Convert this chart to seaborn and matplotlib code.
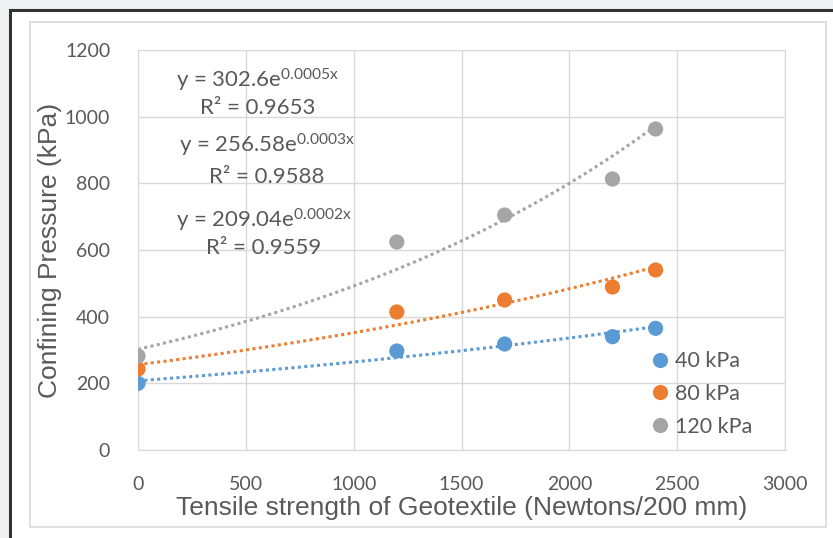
import numpy as np
import pandas as pd
import matplotlib
matplotlib.use("Agg")
import matplotlib.pyplot as plt
import seaborn as sns
from matplotlib.patches import Rectangle

# Data
tensile = [0, 1200, 1700, 2200, 2400]
p_40 = [200, 297, 318, 340, 365]
p_80 = [243, 414, 450, 489, 540]
p_120 = [282, 624, 705, 813, 963]
series_names = ["40 kPa", "80 kPa", "120 kPa"]
colors = ["#5B9BD5", "#ED7D31", "#A5A5A5"]
equations = ["y = 302.6e$^{0.0005x}$", "y = 256.58e$^{0.0003x}$", "y = 209.04e$^{0.0002x}$"]
r2_labels = ["R² = 0.9653", "R² = 0.9588", "R² = 0.9559"]

df = pd.DataFrame({
    "Tensile": tensile * 3,
    "Pressure": p_40 + p_80 + p_120,
    "Series": [s for s in series_names for _ in tensile],
})

sns.set_style("white")
plt.rcParams["font.family"] = ["Lato", "DejaVu Sans"]
plt.rcParams["mathtext.default"] = "regular"
txt = "#595959"

W, H = 833, 538
fig = plt.figure(figsize=(W / 100, H / 100), dpi=100)
fig.patch.set_facecolor("#F0F1F3")
# outer dark frame and inner chart border
fig.patches.append(Rectangle((10 / W, -10 / H), 840 / W, 538 / H, transform=fig.transFigure,
                             facecolor="white", edgecolor="#333333", linewidth=2.2, zorder=-10))
fig.patches.append(Rectangle((30 / W, 11 / H), 796 / W, 505 / H, transform=fig.transFigure,
                             facecolor="white", edgecolor="#D9D9D9", linewidth=1.2, zorder=-9))

ax = fig.add_axes([138 / W, 1 - 450 / H, 647 / W, 400 / H])
ax.set_zorder(5)
ax.set_facecolor("none")

# exponential trendlines (fit on log y, like Excel)
xs = np.linspace(0, 2400, 200)
for name, col in zip(series_names, colors):
    sub = df[df["Series"] == name]
    b, lna = np.polyfit(sub["Tensile"], np.log(sub["Pressure"]), 1)
    ax.plot(xs, np.exp(lna) * np.exp(b * xs), linestyle=(0, (1, 1.1)), color=col, linewidth=2.2, zorder=2)

sns.scatterplot(data=df, x="Tensile", y="Pressure", hue="Series", palette=colors,
                s=120, edgecolor="none", ax=ax, zorder=3)

ax.set_xlim(0, 3000)
ax.set_ylim(0, 1200)
ax.set_xticks(range(0, 3001, 500))
ax.set_yticks(range(0, 1201, 200))
ax.grid(True, color="#D9D9D9", linewidth=1)
for sp in ax.spines.values():
    sp.set_color("#D9D9D9")
ax.tick_params(axis="x", length=0, pad=19, labelsize=14, labelcolor=txt)
ax.tick_params(axis="y", length=0, pad=20, labelsize=14, labelcolor=txt)

ax.set_xlabel("Tensile strength of Geotextile (Newtons/200 mm)", fontsize=19, color=txt,
              family="Liberation Sans", labelpad=2)
ax.set_ylabel("Confining Pressure (kPa)", fontsize=19, color=txt,
              family="Liberation Sans", labelpad=2)

# trendline equations
eq_pos = [(556, 1110, 1026), (598, 915, 819), (584, 690, 606)]
for (tx, ty, ry), eq, r2 in zip(eq_pos, equations, r2_labels):
    ax.text(tx, ty, eq, fontsize=16, color=txt, ha="center", va="center")
    ax.text(tx, ry, r2, fontsize=16, color=txt, ha="center", va="center")

leg = ax.legend(loc="lower left", bbox_to_anchor=(0.75, -0.005), frameon=False, fontsize=15.5,
                handletextpad=-0.3, labelspacing=0.6, markerscale=1.0, borderpad=0.2)
for t in leg.get_texts():
    t.set_color(txt)

fig.savefig("out.png", dpi=100, facecolor=fig.get_facecolor())
